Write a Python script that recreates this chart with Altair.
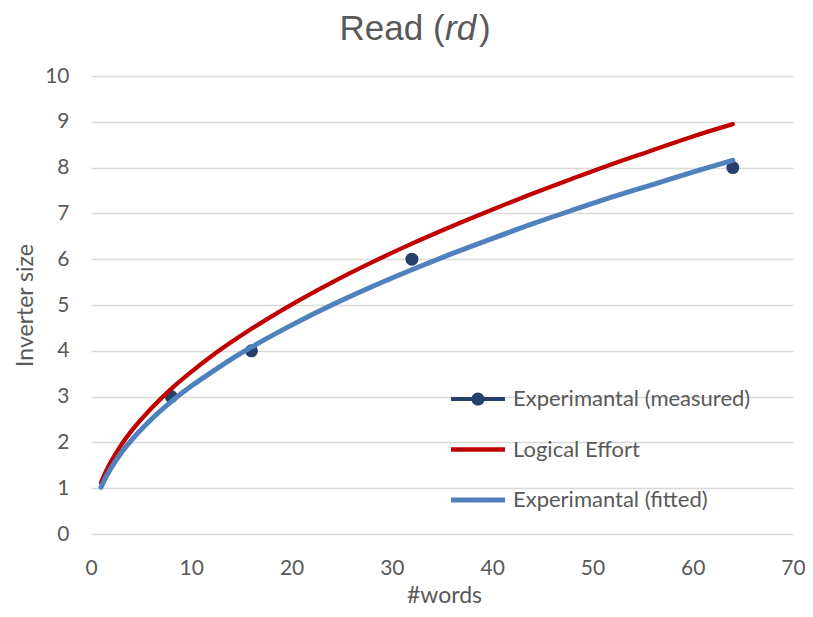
import altair as alt
import pandas as pd

# ---- data ----
x_curve = [1, 1.5, 2, 3, 4, 6, 8, 10, 12, 14, 16, 20, 24, 28, 32, 36, 40, 44, 48, 52, 56, 60, 64]
y_logical = [1.12, 1.37, 1.58, 1.94, 2.24, 2.74, 3.17, 3.54, 3.88, 4.19, 4.48, 5.01, 5.49,
             5.93, 6.34, 6.72, 7.08, 7.43, 7.76, 8.08, 8.38, 8.68, 8.95]
y_fitted = [1.02, 1.25, 1.44, 1.77, 2.04, 2.50, 2.89, 3.23, 3.53, 3.82, 4.08, 4.56, 5.00,
            5.40, 5.77, 6.12, 6.45, 6.77, 7.07, 7.36, 7.63, 7.90, 8.16]
x_measured = [8, 16, 32, 64]
y_measured = [3, 4, 6, 8]
series_names = ["Experimantal (measured)", "Logical Effort", "Experimantal (fitted)"]
series_colors = ["#25406A", "#C00000", "#4F81BD"]
x_ticks = [0, 10, 20, 30, 40, 50, 60, 70]
y_ticks = [0, 1, 2, 3, 4, 5, 6, 7, 8, 9, 10]
title_parts = ["Read (", "rd", ")"]

# legend symbols (custom paths): line with dot, plain lines
legend_paths = [
    "M-1.35,-0.1 L1.35,-0.1 L1.35,0.1 L-1.35,0.1 Z "
    "M-0.33,0 A0.33,0.33 0 1,1 0.33,0 A0.33,0.33 0 1,1 -0.33,0 Z",
    "M-1.35,-0.11 L1.35,-0.11 L1.35,0.11 L-1.35,0.11 Z",
    "M-1.35,-0.125 L1.35,-0.125 L1.35,0.125 L-1.35,0.125 Z",
]

FONT = "Lato"
GRAY = "#595959"

meas_df = pd.DataFrame({"x": x_measured, "y": y_measured, "series": series_names[0]})
red_df = pd.DataFrame({"x": x_curve, "y": y_logical})
blue_df = pd.DataFrame({"x": x_curve, "y": y_fitted})

xs = alt.Scale(domain=[0, 70], nice=False, zero=False)
ys = alt.Scale(domain=[0, 10], nice=False)

x_axis = alt.Axis(values=x_ticks, grid=False, domain=False, ticks=False, tickSize=0,
                  labelFlush=False, labelPadding=23, labelFontSize=21, labelFont=FONT,
                  labelColor=GRAY,
                  title="#words", titleFont=FONT, titleFontSize=23, titleColor=GRAY,
                  titleFontWeight="normal", titleX=353, titleY=68,
                  titleBaseline="alphabetic", titleAlign="center")
y_axis = alt.Axis(values=y_ticks, grid=True, gridColor="#D9D9D9", gridWidth=1.3,
                  domain=False, ticks=False, tickSize=0, labelFlush=False, labelPadding=22,
                  labelFontSize=21, labelFont=FONT, labelColor=GRAY,
                  title="Inverter size", titleFont=FONT, titleFontSize=23, titleColor=GRAY,
                  titleFontWeight="normal", titleAngle=270, titleX=-59, titleY=229,
                  titleAlign="center", titleBaseline="alphabetic")

X = alt.X("x:Q", scale=xs, axis=x_axis)
Y = alt.Y("y:Q", scale=ys, axis=y_axis)

pts = alt.Chart(meas_df).mark_point(filled=True, size=170, opacity=1,
                                    color=series_colors[0]).encode(x=X, y=Y)
red = alt.Chart(red_df).mark_line(color=series_colors[1], strokeWidth=4.3,
                                  interpolate="monotone", strokeCap="round").encode(x=X, y=Y)
blue = alt.Chart(blue_df).mark_line(color=series_colors[2], strokeWidth=5,
                                    interpolate="monotone", strokeCap="round").encode(x=X, y=Y)

leg = alt.Legend(title=None, orient="none", legendX=367, legendY=303, symbolSize=1600,
                 symbolOpacity=1, symbolStrokeWidth=0, labelFont=FONT, labelFontSize=22,
                 labelColor=GRAY, labelOffset=15, labelLimit=0, rowPadding=19.5, padding=0,
                 direction="vertical")
legend_layer = alt.Chart(meas_df).transform_filter("datum.x < 0").mark_point(filled=True).encode(
    x=X, y=Y,
    fill=alt.Fill("series:N", scale=alt.Scale(domain=series_names, range=series_colors), legend=leg),
    shape=alt.Shape("series:N", scale=alt.Scale(domain=series_names, range=legend_paths), legend=leg),
)

def title_text(txt, xpos, style):
    return alt.Chart(pd.DataFrame({"t": [txt]})).mark_text(
        align="left", baseline="alphabetic", font="Liberation Sans", fontSize=35,
        color=GRAY, fontStyle=style,
    ).encode(x=alt.value(xpos), y=alt.value(-36), text="t:N")

t1 = title_text(title_parts[0], 248.5, "normal")
t2 = title_text(title_parts[1], 354, "italic")
t3 = title_text(title_parts[2], 388, "normal")

chart = alt.layer(pts, red, blue, legend_layer, t1, t2, t3).properties(
    width=702, height=458,
    autosize=alt.AutoSizeParams(type="none"),
    padding={"left": 83, "top": 68, "right": 12, "bottom": 75},
).configure_view(stroke=None)

chart.save("out.html", embed_options={"renderer": "svg", "actions": False})
